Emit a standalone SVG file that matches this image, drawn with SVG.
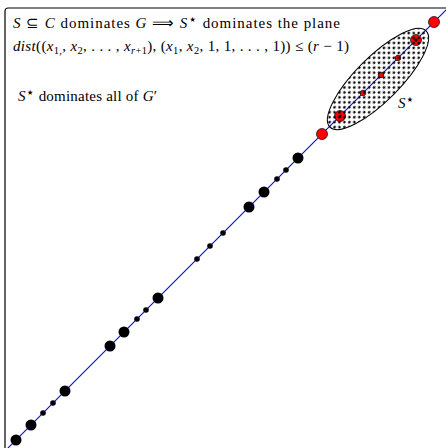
<svg xmlns="http://www.w3.org/2000/svg" width="446" height="448" viewBox="0 0 446 448">
<style>
text{font-family:"Liberation Serif","Times New Roman",serif;font-size:15px;fill:#000}
.i{font-style:italic}
.sub{font-size:10.5px}
.st{font-family:"DejaVu Sans",sans-serif;font-size:14px;font-style:normal}
.big{fill:#000}
.red{fill:#ff0000;stroke:#000;stroke-width:0.7}
</style>
<defs>
<pattern id="dots" patternUnits="userSpaceOnUse" width="7" height="7">
<circle cx="1.75" cy="1.75" r="1.3" fill="#000"/>
<circle cx="5.25" cy="5.25" r="1.3" fill="#000"/>
</pattern>
</defs>
<rect x="0" y="0" width="446" height="448" fill="#fff"/>
<rect id="frame" x="5" y="8" width="520" height="520" rx="3" fill="none" stroke="#000" stroke-width="1.2"/>
<g id="texts">
<text x="13" y="28" textLength="327" lengthAdjust="spacing"><tspan class="i">S</tspan> ⊆ <tspan class="i">C</tspan> dominates <tspan class="i">G</tspan> ⟹ <tspan class="i">S</tspan><tspan dy="-4" class="st">⋆</tspan><tspan dy="4"> dominates the plane</tspan></text>
<text x="13" y="51" textLength="336" lengthAdjust="spacing"><tspan class="i">dist</tspan>((<tspan class="i">x</tspan><tspan class="sub" dy="3">1,</tspan><tspan dy="-3">, </tspan><tspan class="i">x</tspan><tspan class="sub" dy="3">2</tspan><tspan dy="-3">, . . . , </tspan><tspan class="i">x</tspan><tspan class="sub" dy="3"><tspan class="i">r</tspan>+1</tspan><tspan dy="-3">), (</tspan><tspan class="i">x</tspan><tspan class="sub" dy="3">1</tspan><tspan dy="-3">, </tspan><tspan class="i">x</tspan><tspan class="sub" dy="3">2</tspan><tspan dy="-3">, 1, 1, . . . , 1)) ≤ (</tspan><tspan class="i">r</tspan> − 1)</text>
<text x="18" y="101" textLength="139" lengthAdjust="spacing"><tspan class="i">S</tspan><tspan dy="-4" class="st">⋆</tspan><tspan dy="4"> dominates all of </tspan><tspan class="i">G</tspan>′</text>
</g>
<g id="connectors">
<line x1="-5" y1="461" x2="451" y2="5" stroke="#0000ff" stroke-width="1.1"/>
</g>
<g id="nodes">
<circle cx="16" cy="440" r="5.5" class="big"/>
<circle cx="31" cy="425" r="5.5" class="big"/>
<circle cx="43" cy="413" r="2.8" class="big"/>
<circle cx="53" cy="403" r="2.8" class="big"/>
<circle cx="65" cy="391" r="5.5" class="big"/>
<circle cx="110" cy="346" r="5.5" class="big"/>
<circle cx="124" cy="332" r="5.5" class="big"/>
<circle cx="137" cy="319" r="2.8" class="big"/>
<circle cx="146" cy="310" r="2.8" class="big"/>
<circle cx="158" cy="298" r="5.5" class="big"/>
<circle cx="197" cy="259" r="2.8" class="big"/>
<circle cx="210" cy="246" r="2.8" class="big"/>
<circle cx="223" cy="233" r="2.8" class="big"/>
<circle cx="249" cy="207" r="5.5" class="big"/>
<circle cx="264" cy="192" r="5.5" class="big"/>
<circle cx="277" cy="179" r="2.8" class="big"/>
<circle cx="286" cy="170" r="2.8" class="big"/>
<circle cx="298" cy="158" r="5.5" class="big"/>
<circle cx="322" cy="134" r="5.5" class="red"/>
<circle cx="340" cy="116" r="5.5" class="red"/>
<circle cx="340" cy="116" r="1.5" fill="#000"/>
<circle cx="363" cy="93" r="2.8" class="red"/>
<circle cx="381" cy="75" r="2.8" class="red"/>
<circle cx="398" cy="58" r="2.8" class="red"/>
<circle cx="416" cy="40" r="5.5" class="red"/>
<circle cx="416" cy="40" r="1.5" fill="#000"/>
<circle cx="434" cy="22" r="5.5" class="red"/>
</g>
<g id="set-Sstar">
<ellipse cx="378" cy="79" rx="68" ry="22" transform="rotate(-45 378 79)" fill="url(#dots)" stroke="#000" stroke-width="1"/>
<text x="398" y="108" class="i">S<tspan dy="-4" class="st">⋆</tspan></text>
</g>
</svg>
